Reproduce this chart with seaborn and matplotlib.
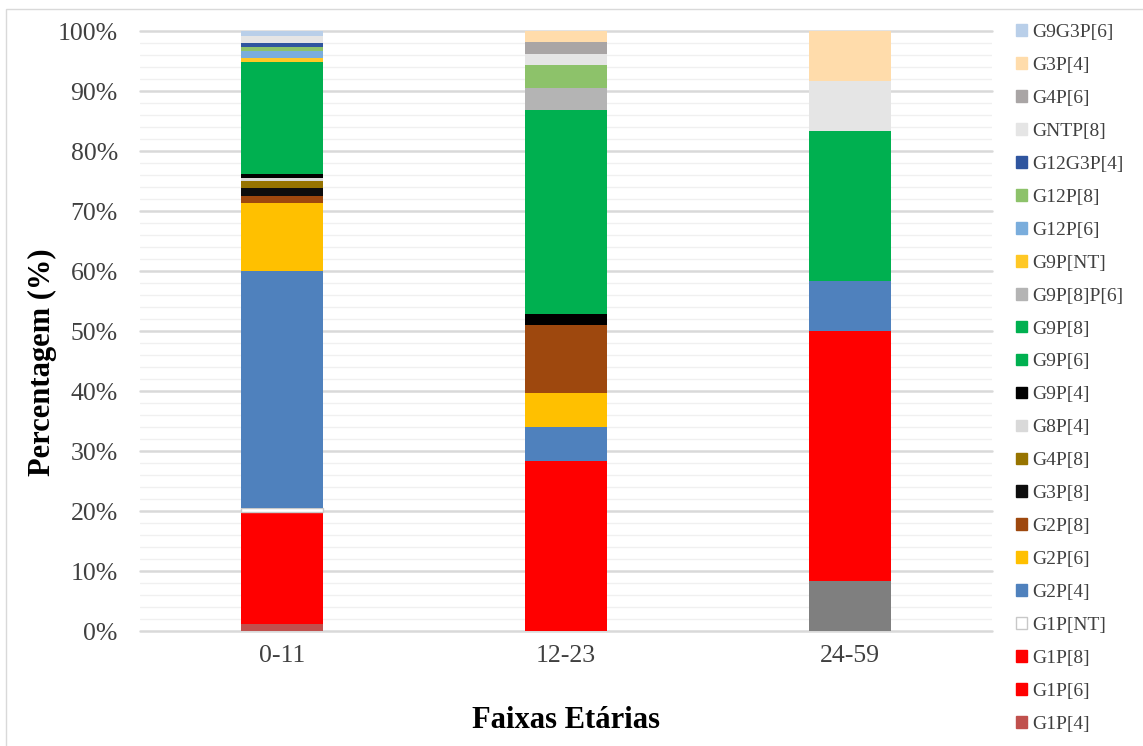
import matplotlib
matplotlib.use("Agg")
import matplotlib.pyplot as plt
import seaborn as sns
import numpy as np
from matplotlib.patches import Patch, Rectangle
from matplotlib.ticker import PercentFormatter, MultipleLocator

# Age groups (months)
faixas = ["0-11", "12-23", "24-59"]

# Genotypes in stacking order (bottom to top)
genotipos = [
    "Outros", "G1P[4]", "G1P[6]", "G1P[8]", "G1P[NT]", "G2P[4]", "G2P[6]",
    "G2P[8]", "G3P[8]", "G4P[8]", "G8P[4]", "G9P[4]", "G9P[6]", "G9P[8]",
    "G9P[8]P[6]", "G9P[NT]", "G12P[6]", "G12P[8]", "G12G3P[4]", "GNTP[8]",
    "G4P[6]", "G3P[4]", "G9G3P[6]",
]

# Share of each genotype (%) per age group, same order as above
pct_0_11 = [0.0, 1.2, 0.6, 18.0, 0.65, 39.5, 11.4, 1.2, 1.2, 1.2, 0.6, 0.6,
            0.6, 18.1, 0.0, 0.65, 1.2, 0.65, 0.65, 1.1, 0.0, 0.0, 0.9]
pct_12_23 = [0.0, 0.0, 0.0, 28.30, 0.0, 5.66, 5.66, 11.32, 0.0, 0.0, 0.0, 1.89,
             0.0, 33.96, 3.77, 0.0, 0.0, 3.77, 0.0, 1.89, 1.89, 1.89, 0.0]
pct_24_59 = [8.33, 0.0, 0.0, 41.67, 0.0, 8.33, 0.0, 0.0, 0.0, 0.0, 0.0, 0.0,
             0.0, 25.0, 0.0, 0.0, 0.0, 0.0, 0.0, 8.33, 0.0, 8.33, 0.0]

# Genotypes listed in the legend (top to bottom)
legenda = genotipos[1:][::-1]

cores = {
    "Outros": "#7f7f7f",
    "G1P[4]": "#c0504d",
    "G1P[6]": "#ff0000",
    "G1P[8]": "#ff0000",
    "G1P[NT]": "#ffffff",
    "G2P[4]": "#4f81bd",
    "G2P[6]": "#ffc000",
    "G2P[8]": "#9e480e",
    "G3P[8]": "#0d0d0d",
    "G4P[8]": "#977400",
    "G8P[4]": "#d9d9d9",
    "G9P[4]": "#000000",
    "G9P[6]": "#00b050",
    "G9P[8]": "#00b050",
    "G9P[8]P[6]": "#b4b4b4",
    "G9P[NT]": "#ffc825",
    "G12P[6]": "#7aaddc",
    "G12P[8]": "#8dc26a",
    "G12G3P[4]": "#2f559f",
    "GNTP[8]": "#e5e5e5",
    "G4P[6]": "#a9a5a5",
    "G3P[4]": "#ffdcab",
    "G9G3P[6]": "#b9cfe9",
}

sns.set_style("white")
plt.rcParams["font.family"] = ["Liberation Serif", "DejaVu Serif"]

fig = plt.figure(figsize=(11.43, 7.46), dpi=100)
ax = fig.add_axes([140 / 1143, 1 - 631 / 746, 852 / 1143, 600 / 746])

bottom = np.zeros(len(faixas))
for i, g in enumerate(genotipos):
    vals = np.array([pct_0_11[i], pct_12_23[i], pct_24_59[i]])
    edge = "#c8c8c8" if g == "G1P[NT]" else "none"
    sns.barplot(x=faixas, y=vals, order=faixas, color=cores[g], saturation=1,
                width=0.29, bottom=bottom, edgecolor=edge, linewidth=1.0,
                ax=ax, zorder=3)
    bottom += vals

# empty segments should leave no outline behind
for p in ax.patches:
    if p.get_height() == 0:
        p.set_visible(False)

ax.set_xlim(-0.5, 2.5)
ax.set_ylim(0, 100)
ax.yaxis.set_major_locator(MultipleLocator(10))
ax.yaxis.set_minor_locator(MultipleLocator(2))
ax.yaxis.set_major_formatter(PercentFormatter(100, decimals=0))
ax.set_axisbelow(True)
ax.grid(which="minor", axis="y", color="#f0f0f0", linewidth=1.0, zorder=0)
ax.grid(which="major", axis="y", color="#d9d9d9", linewidth=1.8, zorder=1)
for ln in ax.get_ygridlines():
    ln.set_clip_on(False)
for s in ax.spines.values():
    s.set_visible(False)

ax.tick_params(axis="both", which="both", length=0)
ax.tick_params(axis="y", labelsize=18.5, labelcolor="#404040", pad=16)
ax.tick_params(axis="x", labelsize=18.5, labelcolor="#404040", pad=10)

ax.set_xlabel("Faixas Etárias", fontsize=22, fontweight="bold", color="black")
ax.xaxis.set_label_coords(0.5, -0.125)
ax.set_ylabel("Percentagem (%)", fontsize=22, fontweight="bold", color="black",
              va="center", ha="center")
ax.yaxis.set_label_coords(-0.114, 0.448)

handles = []
for g in legenda:
    ec = "#c8c8c8" if g == "G1P[NT]" else cores[g]
    handles.append(Patch(facecolor=cores[g], edgecolor=ec, linewidth=1.0))
fig.legend(handles, legenda, loc="upper left",
           bbox_to_anchor=(1016 / 1143, 1 - 24 / 746), frameon=False,
           fontsize=14, labelcolor="#404040", handlelength=0.55,
           handleheight=0.55, handletextpad=0.3, labelspacing=0.82,
           borderpad=0, borderaxespad=0)

# Chart frame
fig.add_artist(Rectangle((6 / 1143, -0.02), 1.05, 1 - 9 / 746 + 0.02,
                         transform=fig.transFigure, fill=False,
                         edgecolor="#d9d9d9", linewidth=1.0))

fig.savefig("out.png", dpi=100)
